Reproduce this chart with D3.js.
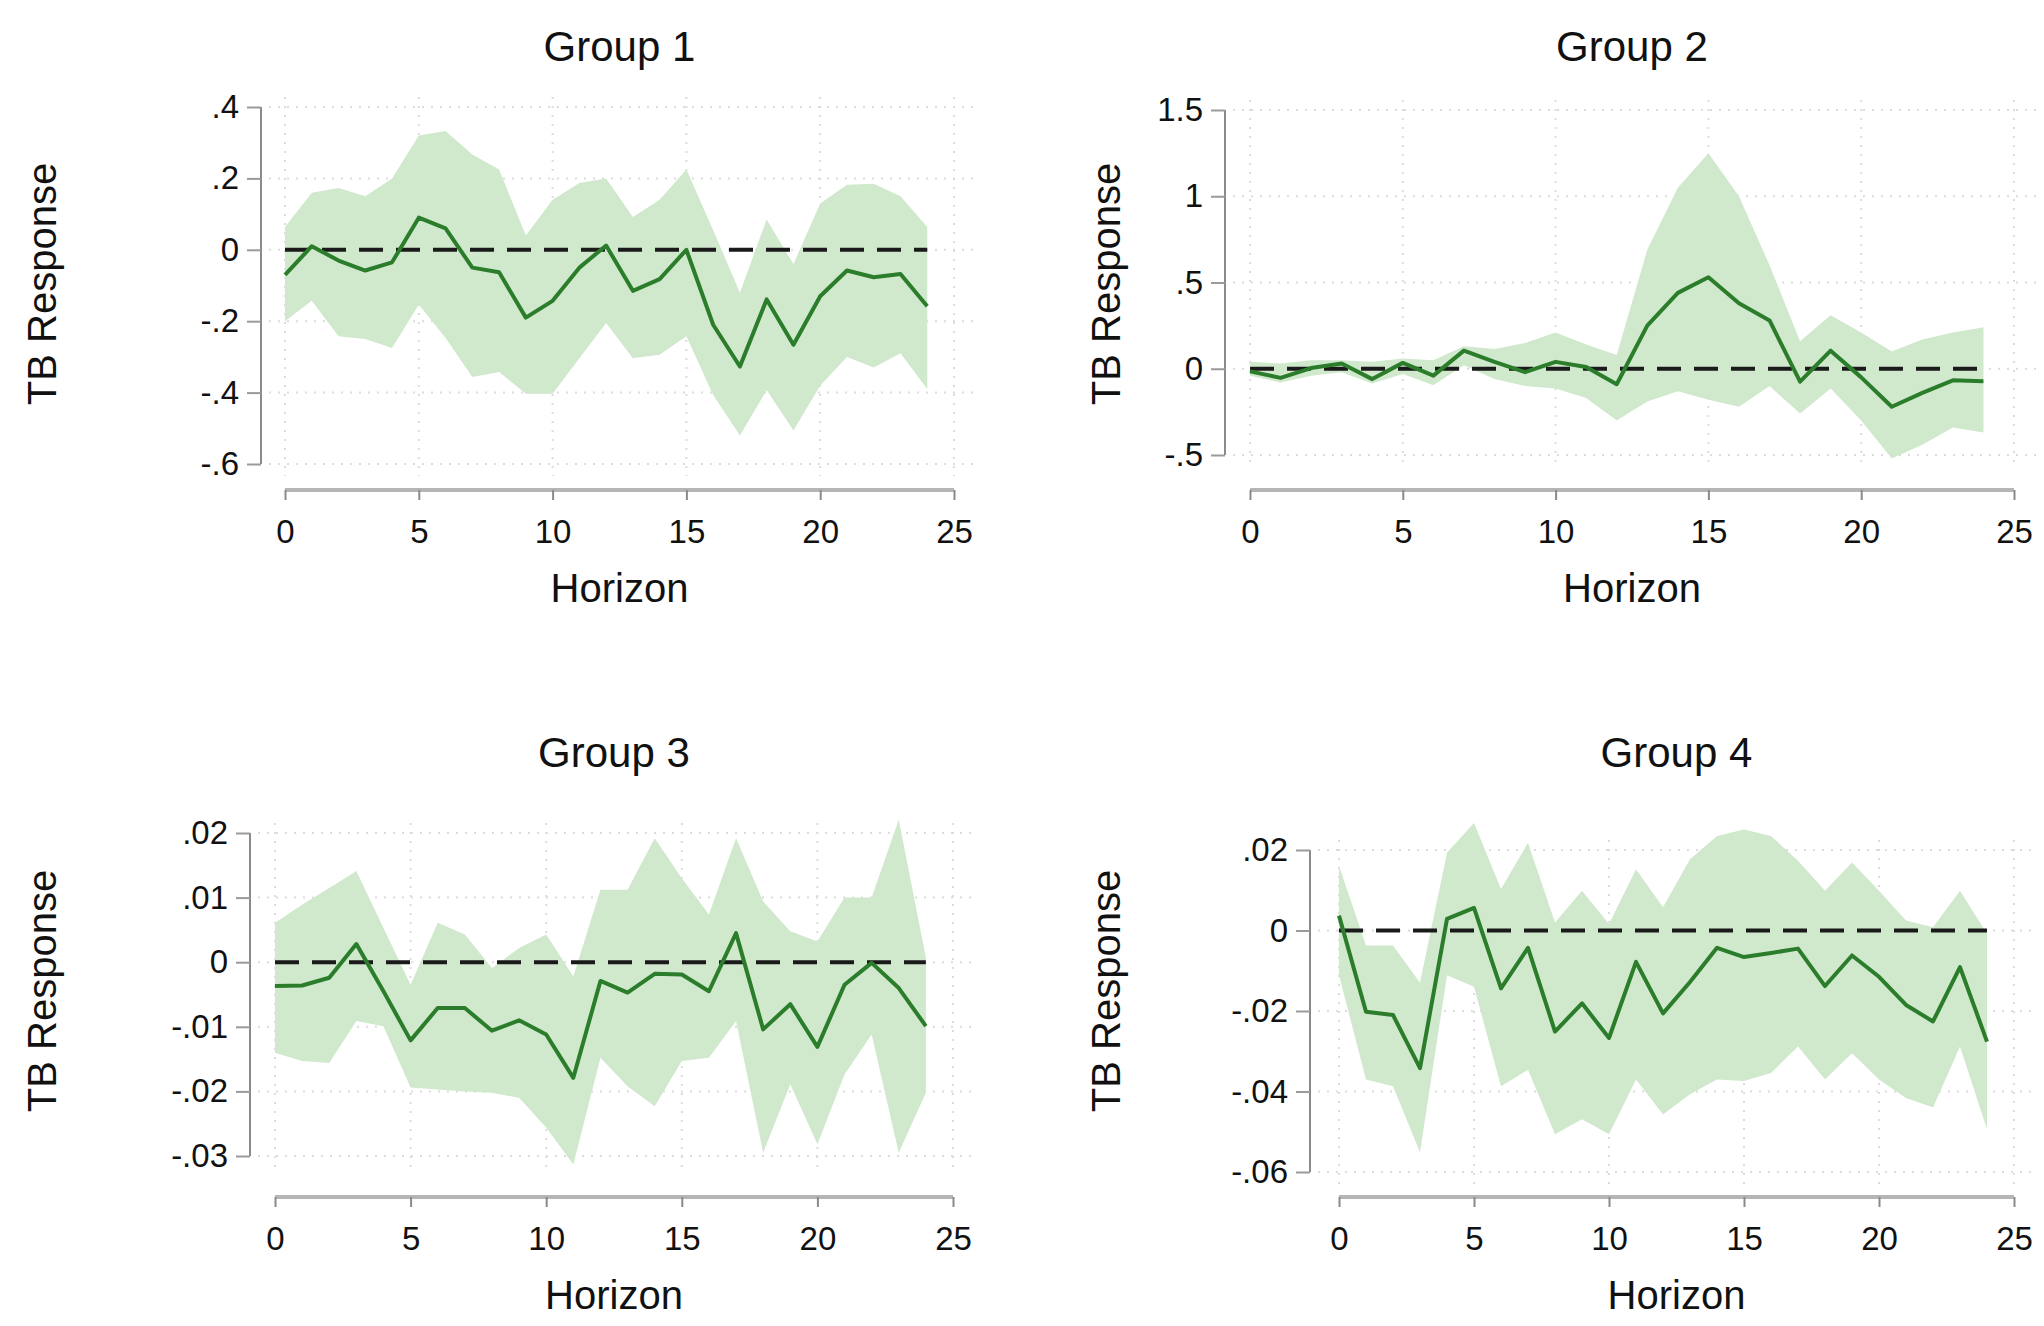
<!DOCTYPE html>
<html>
<head>
<meta charset="utf-8">
<script src="https://cdn.jsdelivr.net/npm/d3@7"></script>
<style>
  body { margin: 0; background: #fff; }
  text { font-family: "Liberation Sans", Arial, sans-serif; fill: #111; }
</style>
</head>
<body>
<svg id="chart" width="2044" height="1326"></svg>
<script>
// horizons 0..24
var horizon = d3.range(0, 25);
var xTicks = [0, 5, 10, 15, 20, 25];

// Group 1
var g1Irf = [-0.07, 0.01, -0.03, -0.058, -0.035, 0.09, 0.06, -0.05, -0.063, -0.19, -0.143, -0.05, 0.012, -0.115, -0.082, 0.0, -0.21, -0.327, -0.139, -0.266, -0.13, -0.058, -0.077, -0.068, -0.158];
var g1Hi  = [0.064, 0.16, 0.173, 0.15, 0.2, 0.32, 0.333, 0.267, 0.225, 0.04, 0.14, 0.187, 0.2, 0.092, 0.14, 0.225, 0.055, -0.12, 0.085, -0.04, 0.13, 0.182, 0.185, 0.15, 0.064];
var g1Lo  = [-0.2, -0.143, -0.242, -0.25, -0.275, -0.153, -0.247, -0.356, -0.342, -0.403, -0.403, -0.304, -0.205, -0.304, -0.294, -0.242, -0.407, -0.52, -0.393, -0.506, -0.38, -0.3, -0.33, -0.29, -0.39];
var g1YTicks = [0.4, 0.2, 0, -0.2, -0.4, -0.6];
var g1YLabels = [".4", ".2", "0", "-.2", "-.4", "-.6"];

// Group 2
var g2Irf = [-0.015, -0.053, 0.004, 0.03, -0.06, 0.034, -0.04, 0.105, 0.04, -0.02, 0.04, 0.01, -0.09, 0.25, 0.44, 0.53, 0.38, 0.28, -0.075, 0.105, -0.05, -0.22, -0.14, -0.067, -0.073];
var g2Hi  = [0.04, 0.03, 0.05, 0.05, 0.04, 0.06, 0.05, 0.13, 0.115, 0.15, 0.21, 0.14, 0.08, 0.69, 1.05, 1.25, 1.0, 0.6, 0.16, 0.31, 0.21, 0.1, 0.17, 0.21, 0.24];
var g2Lo  = [-0.04, -0.08, -0.04, -0.02, -0.085, -0.03, -0.095, 0.02, -0.06, -0.1, -0.115, -0.17, -0.3, -0.19, -0.13, -0.18, -0.22, -0.1, -0.26, -0.115, -0.3, -0.52, -0.44, -0.34, -0.37];
var g2YTicks = [1.5, 1, 0.5, 0, -0.5];
var g2YLabels = ["1.5", "1", ".5", "0", "-.5"];

// Group 3
var g3Irf = [-0.0037, -0.0036, -0.0024, 0.0028, -0.0045, -0.0121, -0.0071, -0.0071, -0.0106, -0.009, -0.0112, -0.0179, -0.0029, -0.0047, -0.0018, -0.0019, -0.0045, 0.0045, -0.0104, -0.0065, -0.0131, -0.0035, -0.0001, -0.004, -0.0099];
var g3Hi  = [0.0061, 0.0089, 0.0115, 0.0141, 0.0053, -0.0035, 0.0061, 0.0043, -0.0009, 0.0022, 0.0043, -0.0022, 0.0112, 0.0112, 0.0192, 0.013, 0.0074, 0.0192, 0.0094, 0.0048, 0.0032, 0.01, 0.01, 0.0221, 0.0007];
var g3Lo  = [-0.014, -0.0153, -0.0156, -0.0091, -0.0099, -0.0194, -0.0197, -0.02, -0.0202, -0.021, -0.0256, -0.0313, -0.0148, -0.0192, -0.0223, -0.0153, -0.0148, -0.0091, -0.0295, -0.0189, -0.0282, -0.0174, -0.0112, -0.0295, -0.0202];
var g3YTicks = [0.02, 0.01, 0, -0.01, -0.02, -0.03];
var g3YLabels = [".02", ".01", "0", "-.01", "-.02", "-.03"];

// Group 4
var g4Irf = [0.0037, -0.0202, -0.021, -0.0342, 0.0029, 0.0056, -0.0144, -0.0043, -0.0251, -0.0181, -0.0267, -0.0078, -0.0206, -0.0128, -0.0043, -0.0066, -0.0056, -0.0045, -0.0138, -0.0062, -0.0115, -0.0185, -0.0226, -0.0091, -0.0276];
var g4Hi  = [0.016, -0.0037, -0.0037, -0.013, 0.0193, 0.0267, 0.0103, 0.0218, 0.002, 0.0099, 0.0016, 0.0152, 0.0058, 0.0177, 0.0235, 0.0251, 0.0235, 0.0173, 0.0099, 0.0169, 0.0099, 0.0025, 0.0008, 0.0099, -0.0008];
var g4Lo  = [-0.0111, -0.037, -0.0387, -0.0551, -0.0111, -0.014, -0.0387, -0.0346, -0.0506, -0.0469, -0.0506, -0.037, -0.0457, -0.0407, -0.037, -0.0374, -0.0354, -0.0288, -0.037, -0.0305, -0.037, -0.0416, -0.044, -0.0288, -0.0494];
var g4YTicks = [0.02, 0, -0.02, -0.04, -0.06];
var g4YLabels = [".02", "0", "-.02", "-.04", "-.06"];

var titles = ["Group 1", "Group 2", "Group 3", "Group 4"];

// panel geometry (pixels)
var panels = [
  {title: titles[0], irf: g1Irf, lo: g1Lo, hi: g1Hi, yTicks: g1YTicks, yLabels: g1YLabels,
   axisX: 261, yTop: 107, yBot: 464, axisY: 490, x0: 285, x25: 954, titleY: 61, yLabX: 56, yLabY: 284},
  {title: titles[1], irf: g2Irf, lo: g2Lo, hi: g2Hi, yTicks: g2YTicks, yLabels: g2YLabels,
   axisX: 1225, yTop: 110, yBot: 455, axisY: 490, x0: 1250, x25: 2014, titleY: 61, yLabX: 1120, yLabY: 284},
  {title: titles[2], irf: g3Irf, lo: g3Lo, hi: g3Hi, yTicks: g3YTicks, yLabels: g3YLabels,
   axisX: 250, yTop: 833, yBot: 1156, axisY: 1197, x0: 275, x25: 953, titleY: 767, yLabX: 56, yLabY: 991},
  {title: titles[3], irf: g4Irf, lo: g4Lo, hi: g4Hi, yTicks: g4YTicks, yLabels: g4YLabels,
   axisX: 1310, yTop: 850, yBot: 1172, axisY: 1197, x0: 1339, x25: 2014, titleY: 767, yLabX: 1120, yLabY: 991}
];

var svg = d3.select("#chart");

panels.forEach(function(p) {
  var g = svg.append("g");

  var x = d3.scaleLinear().domain([0, 25]).range([p.x0, p.x25]);
  var y = d3.scaleLinear()
      .domain([d3.min(p.yTicks), d3.max(p.yTicks)])
      .range([p.yBot, p.yTop]);

  var gridL = p.axisX + 8, gridR = p.x25 + 22;
  var gridT = p.yTop - 10, gridB = p.yBot + 12;

  // dotted grid
  g.selectAll(".hgrid").data(p.yTicks).enter().append("line")
      .attr("x1", gridL).attr("x2", gridR)
      .attr("y1", function(d){ return y(d); })
      .attr("y2", function(d){ return y(d); })
      .attr("stroke", "#dcdcdc").attr("stroke-width", 2)
      .attr("stroke-dasharray", "2,7");

  g.selectAll(".vgrid").data(xTicks).enter().append("line")
      .attr("x1", function(d){ return x(d); })
      .attr("x2", function(d){ return x(d); })
      .attr("y1", gridT).attr("y2", gridB)
      .attr("stroke", "#dcdcdc").attr("stroke-width", 2)
      .attr("stroke-dasharray", "2,7");

  // confidence band
  var area = d3.area()
      .x(function(d, i){ return x(horizon[i]); })
      .y0(function(d, i){ return y(p.lo[i]); })
      .y1(function(d, i){ return y(p.hi[i]); });

  g.append("path")
      .datum(p.irf)
      .attr("d", area)
      .attr("fill", "#d0e9cd");

  // zero line
  g.append("line")
      .attr("x1", x(0)).attr("x2", x(24))
      .attr("y1", y(0)).attr("y2", y(0))
      .attr("stroke", "#1a1a1a").attr("stroke-width", 4)
      .attr("stroke-dasharray", "24,13");

  // impulse response
  var line = d3.line()
      .x(function(d, i){ return x(horizon[i]); })
      .y(function(d){ return y(d); });

  g.append("path")
      .datum(p.irf)
      .attr("d", line)
      .attr("fill", "none")
      .attr("stroke", "#2b7d2b")
      .attr("stroke-width", 4)
      .attr("stroke-linejoin", "round");

  // y axis
  var yAxis = d3.axisLeft(y).tickValues(p.yTicks)
      .tickFormat(function(d, i){ return p.yLabels[i]; })
      .tickSize(14).tickPadding(8);

  var ya = g.append("g")
      .attr("transform", "translate(" + p.axisX + ",0)")
      .call(yAxis);
  ya.select(".domain").attr("d", "M0," + p.yTop + "V" + p.yBot)
      .attr("stroke", "#8a8a8a").attr("stroke-width", 2);
  ya.selectAll(".tick line").attr("stroke", "#9a9a9a").attr("stroke-width", 2);
  ya.selectAll(".tick text")
      .style("font-size", "33px").style("font-family", "Liberation Sans, Arial, sans-serif")
      .attr("fill", "#111");

  // x axis
  var xAxis = d3.axisBottom(x).tickValues(xTicks).tickSize(10).tickPadding(20);
  var xa = g.append("g")
      .attr("transform", "translate(0," + p.axisY + ")")
      .call(xAxis);
  xa.select(".domain").attr("d", "M" + p.x0 + ",0H" + p.x25)
      .attr("stroke", "#b5b5b5").attr("stroke-width", 4);
  xa.selectAll(".tick line").attr("stroke", "#8a8a8a").attr("stroke-width", 2);
  xa.selectAll(".tick text")
      .style("font-size", "33px").style("font-family", "Liberation Sans, Arial, sans-serif")
      .attr("fill", "#111");

  // titles
  g.append("text")
      .attr("x", (p.x0 + p.x25) / 2)
      .attr("y", p.titleY)
      .attr("text-anchor", "middle")
      .style("font-size", "42px")
      .text(p.title);

  g.append("text")
      .attr("x", (p.x0 + p.x25) / 2)
      .attr("y", p.axisY + 112)
      .attr("text-anchor", "middle")
      .style("font-size", "40px")
      .text("Horizon");

  g.append("text")
      .attr("transform", "translate(" + p.yLabX + "," + p.yLabY + ") rotate(-90)")
      .attr("text-anchor", "middle")
      .style("font-size", "40px")
      .text("TB Response");
});
</script>
</body>
</html>
